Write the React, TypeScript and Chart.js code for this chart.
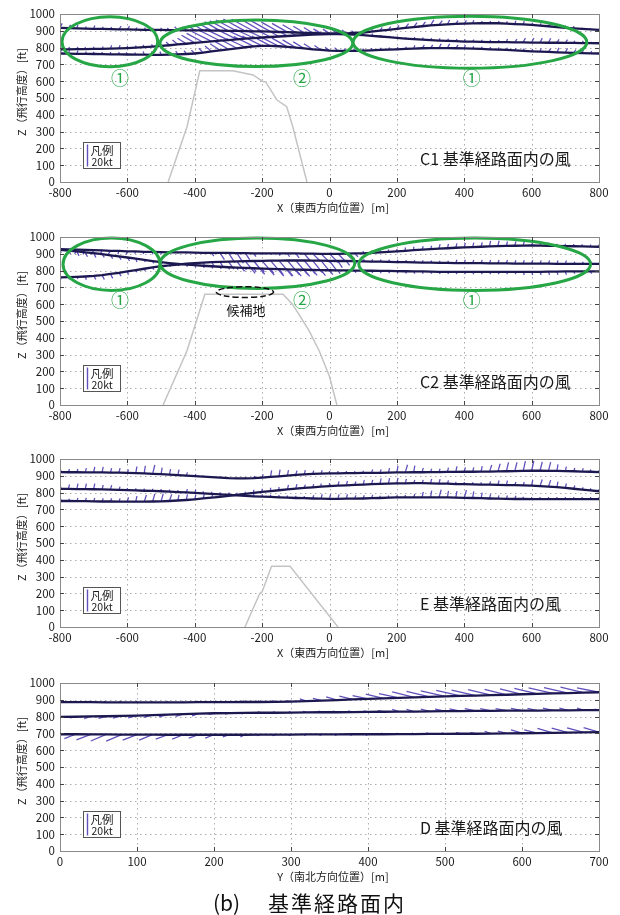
import React, { useEffect, useRef } from 'react';
import { Chart, registerables } from 'chart.js';

Chart.register(...registerables);

const FONT = '"Noto Sans CJK JP", "Noto Sans", sans-serif';
const PATH_COLOR = '#1c1850';
const BARB_COLOR = 'rgba(84,66,182,0.92)';
const GREEN = '#27a646';
const KT_PX = 1.1; // quiver scale: pixels per knot (legend bar = 20 kt)

// ---------- sample positions ----------
const X_EW = [
  -800, -775, -750, -725, -700, -675, -650, -625, -600, -575, -550, -525, -500,
  -475, -450, -425, -400, -375, -350, -325, -300, -275, -250, -225, -200, -175,
  -150, -125, -100, -75, -50, -25, 0, 25, 50, 75, 100, 125, 150,
  175, 200, 225, 250, 275, 300, 325, 350, 375, 400, 425, 450, 475,
  500, 525, 550, 575, 600, 625, 650, 675, 700, 725, 750, 775, 800,
];
const X_NS = [
  0, 20, 40, 60, 80, 100, 120, 140, 160, 180, 200, 220,
  240, 260, 280, 300, 320, 340, 360, 380, 400, 420, 440, 460,
  480, 500, 520, 540, 560, 580, 600, 620, 640, 660, 680, 700,
];

// ---------- C1 : flight paths (ft) and wind (kt: u horizontal, w vertical) ----------
const C1_Z1 = [
  918, 916, 915, 913, 912, 911, 910, 909, 908, 907, 906, 905, 905,
  904, 904, 903, 903, 902, 901, 901, 900, 899, 898, 897, 896, 895,
  893, 892, 890, 888, 887, 885, 884, 884, 885, 887, 890, 895, 901,
  906, 912, 917, 922, 927, 932, 935, 938, 941, 943, 944, 945, 945,
  945, 943, 940, 938, 935, 931, 927, 922, 918, 915, 911, 908, 905,
];
const C1_U1 = [
  2, 2, 1, 1, 1, 1, 1, 2, 2, 1, 1, 0, 0,
  -2, -3, -4, -6, -8, -11, -14, -17, -19, -20, -20, -19, -18,
  -16, -14, -12, -10, -8, -7, -6, -5, -4, -3, 1, 1, 2,
  2, 2, 3, 3, 3, 3, 3, 2, 2, 2, 1, 1, 1,
  1, 1, 1, 1, 1, 1, 1, 1, 0, 0, 0, 0, 0,
];
const C1_W1 = [
  4, 3, 3, 2, 3, 2, 2, 3, 3, 2, 2, 2, 2,
  2, 3, 3, 4, 5, 6, 8, 9, 10, 11, 11, 11, 10,
  9, 8, 7, 6, 5, 4, 4, 3, 3, 2, 2, 2, 3,
  3, 3, 4, 4, 4, 5, 4, 4, 3, 3, 3, 2, 2,
  2, 2, 3, 3, 2, 2, 2, 2, 2, 2, 1, 1, 1,
];
const C1_Z2 = [
  790, 790, 791, 791, 792, 793, 794, 795, 797, 800, 803, 806, 810,
  814, 819, 823, 828, 832, 837, 841, 845, 849, 853, 857, 860, 863,
  866, 869, 872, 874, 877, 879, 880, 880, 879, 877, 874, 870, 866,
  862, 858, 854, 850, 847, 844, 842, 840, 838, 836, 835, 834, 833,
  832, 832, 831, 831, 830, 830, 829, 829, 828, 828, 827, 827, 826,
];
const C1_U2 = [
  1, 1, 1, 0, 0, 1, 1, 1, 0, 0, -1, -1, -2,
  -3, -5, -8, -12, -15, -18, -20, -21, -20, -19, -17, -15, -12,
  -9, -7, -5, -4, -3, -2, -2, -1, -1, 0, 0, 1, 1,
  1, 1, 1, 1, 1, 1, 1, 1, 1, 1, 1, 1, 1,
  1, 1, 2, 2, 2, 2, 2, 2, 2, 1, 1, 1, 1,
];
const C1_W2 = [
  2, 2, 2, 2, 2, 2, 3, 3, 2, 2, 2, 2, 3,
  3, 4, 5, 7, 8, 9, 10, 10, 10, 9, 8, 7, 6,
  5, 4, 3, 3, 2, 2, 2, 2, 2, 2, 2, 2, 1,
  1, 1, 1, 2, 2, 2, 2, 2, 2, 2, 2, 2, 2,
  2, 3, 3, 4, 4, 4, 4, 3, 3, 2, 2, 1, 1,
];
const C1_Z3 = [
  765, 764, 763, 763, 762, 761, 760, 760, 759, 758, 758, 757, 757,
  758, 760, 762, 765, 770, 777, 784, 790, 796, 802, 807, 810, 810,
  808, 804, 800, 795, 790, 786, 782, 780, 780, 781, 782, 784, 786,
  788, 790, 792, 794, 796, 797, 797, 797, 796, 795, 794, 792, 790,
  788, 786, 783, 781, 778, 776, 774, 772, 770, 769, 767, 766, 765,
];
const C1_U3 = [
  1, 1, 1, 1, 0, 0, 0, 0, -1, -1, -1, -1, -1,
  -1, -2, -2, -3, -4, -6, -9, -12, -15, -17, -18, -18, -17,
  -16, -14, -12, -10, -8, -6, -4, -3, -2, -1, 0, 0, 1,
  1, 1, 1, 1, 2, 2, 2, 2, 2, 1, 1, 1, 1,
  1, 1, 1, 1, 1, 1, 2, 2, 2, 2, 1, 1, 1,
];
const C1_W3 = [
  3, 3, 3, 2, 2, 2, 2, 2, 2, 2, 3, 3, 3,
  3, 3, 3, 3, 4, 5, 6, 7, 8, 8, 9, 9, 9,
  8, 8, 7, 6, 5, 4, 3, 3, 2, 2, 2, 2, 2,
  2, 2, 2, 3, 3, 3, 4, 4, 3, 3, 2, 2, 2,
  2, 2, 2, 2, 2, 3, 3, 4, 4, 3, 3, 2, 2,
];
const C1_TERRAIN_X = [-479, -423, -385, -287, -227, -197, -190, -156, -127, -109, -67];
const C1_TERRAIN_Z = [0, 329, 662, 662, 637, 597, 597, 488, 448, 329, 0];

// ---------- C2 ----------
const C2_Z1 = [
  928, 926, 925, 923, 922, 920, 918, 917, 915, 914, 912, 911, 910,
  909, 908, 908, 907, 906, 906, 905, 905, 904, 904, 903, 903, 903,
  902, 902, 902, 901, 901, 900, 900, 900, 901, 902, 903, 906, 909,
  912, 915, 918, 922, 925, 928, 931, 933, 936, 938, 940, 942, 944,
  946, 947, 948, 949, 950, 949, 948, 947, 946, 945, 944, 943, 942,
];
const C2_U1 = [
  -1, -1, -2, -2, -2, -2, -2, -1, -1, -1, -1, 0, 0,
  0, 0, 0, 1, 1, 2, 4, 6, 6, 4, 2, 1, 1,
  1, 2, 3, 5, 7, 8, 8, 7, 5, 3, 0, 0, 0,
  0, 0, 0, 0, 1, 1, 1, 1, 1, 1, 1, 1, 1,
  1, 1, 1, 1, 1, 1, 0, 0, 0, 0, 0, 0, 0,
];
const C2_W1 = [
  -3, -3, -4, -4, -4, -4, -3, -3, -3, -2, -2, -2, -2,
  -1, -1, -1, -1, -1, -3, -6, -9, -9, -6, -3, -1, -1,
  -2, -3, -4, -6, -7, -8, -8, -7, -5, -3, 2, 2, 2,
  2, 2, 3, 3, 3, 3, 4, 4, 4, 4, 4, 4, 5,
  5, 4, 4, 4, 3, 3, 3, 2, 2, 2, 2, 2, 2,
];
const C2_Z2 = [
  924, 919, 914, 909, 904, 898, 891, 885, 878, 871, 864, 857, 850,
  845, 840, 836, 832, 829, 826, 823, 820, 818, 816, 814, 812, 810,
  809, 807, 806, 805, 804, 803, 802, 801, 801, 800, 800, 799, 798,
  798, 797, 796, 795, 795, 794, 793, 793, 792, 792, 792, 792, 792,
  792, 792, 792, 793, 793, 793, 794, 794, 795, 795, 795, 795, 795,
];
const C2_U2 = [
  1, 2, 2, 2, 2, 2, 2, 2, 2, 1, 1, 1, 1,
  1, 1, 1, 1, 1, 1, 1, 1, 1, 1, 2, 2, 3,
  4, 5, 5, 5, 4, 4, 3, 2, 1, 1, 1, 1, 1,
  1, 1, 1, 1, 1, 1, 1, 1, 1, 1, 1, 1, 1,
  1, 1, 1, 1, 1, 1, 1, 1, 1, 1, 1, 1, 1,
];
const C2_W2 = [
  -3, -3, -4, -4, -4, -3, -3, -3, -3, -3, -2, -2, -2,
  -2, -2, -2, -2, -2, -2, -2, -2, -2, -2, -3, -3, -4,
  -5, -6, -6, -6, -5, -5, -4, -3, -2, -2, -2, -2, -2,
  -2, -2, -2, -2, -2, -2, -2, -2, -2, -2, -2, -2, -2,
  -2, -2, -2, -3, -3, -3, -3, -3, -3, -2, -2, -2, -2,
];
const C2_Z3 = [
  760, 761, 763, 765, 768, 773, 780, 787, 795, 803, 811, 819, 826,
  831, 836, 841, 845, 848, 850, 852, 854, 855, 856, 857, 858, 859,
  859, 860, 860, 860, 859, 859, 858, 857, 857, 856, 855, 854, 853,
  852, 851, 850, 849, 848, 847, 846, 846, 845, 845, 844, 844, 843,
  843, 843, 842, 842, 842, 841, 841, 840, 840, 840, 840, 840, 840,
];
const C2_U3 = [
  1, 1, 1, 1, 2, 2, 2, 2, 1, 1, 1, 1, 1,
  1, 1, 1, 1, 1, 2, 3, 5, 7, 9, 10, 11, 12,
  12, 11, 11, 10, 9, 8, 6, 4, 3, 2, 1, 1, 1,
  1, 1, 1, 1, 1, 1, 1, 1, 1, 1, 1, 1, 1,
  1, 1, 1, 1, 1, 1, 1, 1, 1, 1, 1, 1, 1,
];
const C2_W3 = [
  -2, -2, -2, -3, -3, -4, -4, -3, -3, -2, -2, -2, -2,
  -1, -1, -1, -1, -2, -3, -5, -7, -9, -11, -12, -13, -14,
  -14, -13, -13, -12, -11, -10, -8, -6, -4, -2, 2, 2, 2,
  2, 2, 2, 2, 2, 2, 2, 2, 3, 3, 3, 3, 3,
  3, 3, 3, 3, 3, 3, 3, 3, 3, 2, 2, 2, 2,
];
const C2_TERRAIN_X = [-494, -423, -370, -138, -110, -88, -60, -30, 0, 22];
const C2_TERRAIN_Z = [0, 323, 659, 659, 600, 530, 440, 320, 170, 0];

// ---------- E ----------
const E_Z1 = [
  922, 921, 921, 920, 920, 920, 919, 919, 918, 916, 914, 912, 910,
  907, 904, 901, 898, 895, 892, 889, 886, 885, 885, 886, 889, 893,
  897, 901, 905, 908, 911, 913, 915, 915, 916, 916, 917, 918, 918,
  919, 920, 920, 921, 921, 922, 922, 923, 923, 924, 924, 925, 925,
  926, 927, 928, 929, 930, 930, 929, 929, 928, 927, 925, 924, 922,
];
const E_U1 = [
  1, 1, 1, 1, 1, 1, 1, 1, 1, 1, 1, 2, 1,
  1, 1, 1, 1, 0, 0, 0, 0, 0, 0, 1, 1, 1,
  1, 1, 1, 1, 1, 1, 0, 0, 0, 0, 0, 1, 1,
  1, 1, 2, 1, 1, 1, 1, 1, 1, 1, 1, 1, 2,
  2, 2, 2, 2, 2, 2, 2, 1, 1, 1, 1, 0, 0,
];
const E_W1 = [
  2, 3, 3, 4, 5, 5, 4, 4, 3, 6, 7, 8, 6,
  5, 5, 3, 2, 1, 1, 1, 1, 1, 1, 2, 3, 6,
  6, 5, 4, 4, 3, 3, 2, 2, 2, 2, 2, 3, 3,
  4, 6, 7, 6, 4, 3, 3, 4, 5, 4, 4, 5, 6,
  7, 8, 8, 9, 9, 8, 8, 6, 4, 3, 3, 2, 2,
];
const E_Z2 = [
  822, 822, 821, 821, 820, 819, 818, 816, 815, 813, 811, 810, 808,
  806, 803, 801, 798, 795, 792, 789, 786, 783, 781, 778, 776, 774,
  772, 770, 768, 767, 765, 764, 763, 763, 764, 764, 765, 767, 768,
  770, 771, 772, 772, 772, 772, 771, 771, 770, 769, 768, 767, 765,
  764, 763, 762, 762, 761, 761, 761, 761, 761, 761, 761, 761, 761,
];
const E_U2 = [
  1, 1, 1, 1, 1, 1, 1, 1, 0, 0, 0, 0, 0,
  0, 0, 1, 1, 0, 0, 0, 0, 0, 0, 0, 0, 0,
  0, 0, 0, 0, 1, 1, 1, 1, 1, 1, 1, 1, 0,
  0, 0, 0, 1, 1, 1, 2, 1, 1, 2, 1, 1, 1,
  1, 1, 1, 0, 0, 0, 0, 0, 0, 0, 0, 0, 0,
];
const E_W2 = [
  2, 4, 5, 5, 5, 4, 4, 3, 2, 2, 2, 2, 2,
  2, 2, 3, 3, 2, 2, 2, 2, 2, 2, 2, 2, 2,
  2, 2, 2, 2, 3, 4, 4, 4, 4, 3, 3, 3, 2,
  2, 2, 2, 3, 5, 6, 7, 6, 6, 7, 6, 5, 4,
  3, 3, 3, 2, 2, 2, 2, 2, 2, 2, 2, 2, 2,
];
const E_Z3 = [
  750, 750, 749, 749, 748, 747, 747, 746, 746, 746, 746, 747, 748,
  750, 753, 756, 760, 765, 770, 775, 780, 786, 792, 798, 804, 809,
  814, 819, 824, 828, 831, 835, 838, 841, 843, 846, 848, 850, 852,
  854, 855, 855, 856, 856, 855, 854, 853, 851, 850, 849, 848, 847,
  846, 845, 844, 843, 842, 839, 835, 832, 828, 823, 818, 813, 808,
];
const E_U3 = [
  1, 1, 1, 1, 1, 1, 1, 1, 1, 1, 2, 2, 2,
  2, 1, 1, 1, 1, 1, 1, 1, 0, 0, 0, 0, 0,
  0, 1, 1, 1, 1, 0, 0, 1, 1, 1, 1, 1, 1,
  1, 1, 1, 1, 1, 1, 1, 1, 0, 0, 0, 0, 1,
  1, 1, 1, 1, 1, 2, 2, 1, 1, 1, 1, 0, 0,
];
const E_W3 = [
  2, 2, 3, 3, 3, 3, 3, 3, 4, 5, 6, 7, 7,
  6, 5, 5, 4, 4, 3, 3, 3, 2, 2, 3, 3, 3,
  3, 4, 4, 3, 3, 3, 3, 4, 4, 3, 4, 4, 5,
  5, 5, 4, 3, 3, 4, 4, 3, 2, 2, 2, 2, 3,
  4, 4, 3, 3, 5, 6, 6, 5, 4, 3, 2, 2, 2,
];
const E_TERRAIN_X = [-251, -207, -200, -172, -117, 25];
const E_TERRAIN_Z = [0, 200, 210, 362, 362, 0];

// ---------- D ----------
const D_Z1 = [
  886, 886, 886, 885, 885, 885, 885, 885, 885, 886, 886, 886,
  887, 887, 888, 889, 892, 895, 898, 902, 905, 908, 911, 914,
  917, 920, 923, 925, 928, 930, 933, 935, 938, 940, 943, 945,
];
const D_U1 = [
  -2, -2, -2, -2, -2, -1, -1, -1, -1, -1, -1, -1,
  -2, -2, -3, -4, -6, -8, -10, -12, -14, -16, -18, -20,
  -21, -22, -22, -22, -21, -20, -20, -21, -22, -22, -21, -20,
];
const D_W1 = [
  1, 1, 1, 1, 1, 1, 1, 1, 1, 1, 1, 1,
  1, 1, 1, 1, 2, 2, 3, 3, 3, 4, 4, 5,
  5, 5, 5, 5, 5, 5, 5, 5, 5, 5, 5, 4,
];
const D_Z2 = [
  798, 799, 801, 802, 804, 806, 809, 812, 815, 818, 820, 821,
  822, 823, 823, 824, 825, 826, 826, 827, 828, 829, 830, 830,
  831, 832, 833, 834, 834, 835, 836, 836, 837, 837, 838, 838,
];
const D_U2 = [
  -4, -5, -6, -7, -8, -8, -8, -8, -7, -6, -5, -4,
  -3, -2, -2, -2, -3, -3, -4, -4, -4, -5, -6, -7,
  -8, -9, -10, -10, -10, -10, -10, -9, -9, -8, -6, -4,
];
const D_W2 = [
  -1, -1, -2, -2, -2, -2, -2, -2, -2, -2, -1, -1,
  -1, 1, 1, 1, 1, 1, 1, 1, 1, 1, 2, 2,
  2, 2, 2, 2, 2, 2, 2, 2, 2, 2, 2, 1,
];
const D_Z3 = [
  695, 695, 694, 694, 693, 693, 693, 692, 692, 692, 692, 692,
  692, 693, 693, 693, 694, 694, 694, 695, 695, 695, 696, 696,
  697, 697, 698, 698, 699, 700, 701, 702, 703, 705, 706, 708,
];
const D_U3 = [
  -6, -10, -13, -14, -14, -13, -12, -11, -10, -9, -8, -6,
  -4, -3, -3, -2, -2, -2, -2, -2, -2, -2, -2, -2,
  -3, -3, -4, -5, -6, -8, -10, -12, -14, -15, -15, -14,
];
const D_W3 = [
  -2, -4, -5, -6, -6, -5, -5, -4, -4, -3, -3, -2,
  -2, -1, -1, -1, -1, -1, -1, -1, -1, 1, 1, 1,
  1, 1, 1, 1, 2, 2, 3, 3, 4, 4, 4, 4,
];

// ---------- annotations (data units: centre x [m], centre z [ft], half-width [m], half-height [ft]) ----------
const C1_ZONES = [
  { cx: -652, cz: 835, a: 142, b: 149, label: '①', lx: -622, lz: 617 },
  { cx: -217, cz: 826, a: 286, b: 139, label: '②', lx: -82, lz: 617 },
  { cx: 417, cz: 832, a: 347, b: 155, label: '①', lx: 422, lz: 617 },
];
const C2_ZONES = [
  { cx: -647, cz: 838, a: 144, b: 156, label: '①', lx: -622, lz: 623 },
  { cx: -214, cz: 844, a: 289, b: 150, label: '②', lx: -82, lz: 623 },
  { cx: 431, cz: 838, a: 344, b: 156, label: '①', lx: 422, lz: 623 },
];
const C2_SITE = { cx: -251, cz: 672, a: 85, b: 32, label: '候補地', lx: -248, lz: 563 };

const Y_TITLE = 'Z（飛行高度）[ft]';

const PANELS = [
  {
    top: 2, xs: X_EW, xmin: -800, xmax: 800, step: 200,
    xTitle: 'X（東西方向位置）[m]', title: 'C1 基準経路面内の風',
    paths: [
      { z: C1_Z1, u: C1_U1, w: C1_W1 },
      { z: C1_Z2, u: C1_U2, w: C1_W2 },
      { z: C1_Z3, u: C1_U3, w: C1_W3 },
    ],
    terrain: { x: C1_TERRAIN_X, z: C1_TERRAIN_Z },
    zones: C1_ZONES, site: null,
  },
  {
    top: 225, xs: X_EW, xmin: -800, xmax: 800, step: 200,
    xTitle: 'X（東西方向位置）[m]', title: 'C2 基準経路面内の風',
    paths: [
      { z: C2_Z1, u: C2_U1, w: C2_W1 },
      { z: C2_Z2, u: C2_U2, w: C2_W2 },
      { z: C2_Z3, u: C2_U3, w: C2_W3 },
    ],
    terrain: { x: C2_TERRAIN_X, z: C2_TERRAIN_Z },
    zones: C2_ZONES, site: C2_SITE,
  },
  {
    top: 447, xs: X_EW, xmin: -800, xmax: 800, step: 200,
    xTitle: 'X（東西方向位置）[m]', title: 'E 基準経路面内の風',
    paths: [
      { z: E_Z1, u: E_U1, w: E_W1 },
      { z: E_Z2, u: E_U2, w: E_W2 },
      { z: E_Z3, u: E_U3, w: E_W3 },
    ],
    terrain: { x: E_TERRAIN_X, z: E_TERRAIN_Z },
    zones: [], site: null,
  },
  {
    top: 671, xs: X_NS, xmin: 0, xmax: 700, step: 100,
    xTitle: 'Y（南北方向位置）[m]', title: 'D 基準経路面内の風',
    paths: [
      { z: D_Z1, u: D_U1, w: D_W1 },
      { z: D_Z2, u: D_U2, w: D_W2 },
      { z: D_Z3, u: D_U3, w: D_W3 },
    ],
    terrain: null,
    zones: [], site: null,
  },
];

const CANVAS_W = 620;
const CANVAS_H = 222;

function makeChart(canvas: HTMLCanvasElement, p: any) {
  const datasets: any[] = p.paths.map((path: any) => ({
    data: p.xs.map((x: number, i: number) => ({ x, y: path.z[i] })),
    borderColor: PATH_COLOR,
    borderWidth: 2.3,
    showLine: true,
    pointRadius: 0,
    tension: 0,
  }));
  if (p.terrain) {
    datasets.push({
      data: p.terrain.x.map((x: number, i: number) => ({ x, y: p.terrain.z[i] })),
      borderColor: '#c4c4c4',
      borderWidth: 1.5,
      showLine: true,
      pointRadius: 0,
      tension: 0,
    });
  }

  const panelPlugin = {
    id: 'panelDecor',
    beforeDatasetsDraw(chart: any) {
      const { ctx, chartArea: a, scales } = chart;
      const xs = scales.x, ys = scales.y;
      ctx.save();
      // dotted grid
      ctx.strokeStyle = '#ababab';
      ctx.lineWidth = 1;
      ctx.setLineDash([1.5, 3.5]);
      ctx.beginPath();
      xs.ticks.forEach((t: any) => {
        const px = Math.round(xs.getPixelForValue(t.value)) + 0.5;
        if (px <= a.left + 1 || px >= a.right - 1) return;
        ctx.moveTo(px, a.top);
        ctx.lineTo(px, a.bottom);
      });
      ys.ticks.forEach((t: any) => {
        const py = Math.round(ys.getPixelForValue(t.value)) + 0.5;
        if (py <= a.top + 1 || py >= a.bottom - 1) return;
        ctx.moveTo(a.left, py);
        ctx.lineTo(a.right, py);
      });
      ctx.stroke();
      ctx.setLineDash([]);
      // wind vectors (quiver)
      ctx.beginPath();
      ctx.rect(a.left, a.top, a.right - a.left, a.bottom - a.top);
      ctx.clip();
      ctx.strokeStyle = BARB_COLOR;
      ctx.lineWidth = 1.3;
      ctx.beginPath();
      p.paths.forEach((path: any) => {
        const n = Math.min(p.xs.length, path.z.length, path.u.length, path.w.length);
        for (let i = 0; i < n; i++) {
          const x0 = xs.getPixelForValue(p.xs[i]);
          const y0 = ys.getPixelForValue(path.z[i]);
          ctx.moveTo(x0, y0);
          ctx.lineTo(x0 + path.u[i] * KT_PX, y0 - path.w[i] * KT_PX);
        }
      });
      ctx.stroke();
      ctx.restore();
    },
    afterDraw(chart: any) {
      const { ctx, chartArea: a, scales } = chart;
      const xs = scales.x, ys = scales.y;
      const X = (v: number) => xs.getPixelForValue(v);
      const Y = (v: number) => ys.getPixelForValue(v);
      ctx.save();

      // green zones
      p.zones.forEach((e: any) => {
        ctx.strokeStyle = GREEN;
        ctx.lineWidth = 3;
        ctx.beginPath();
        ctx.ellipse(X(e.cx), Y(e.cz), Math.abs(X(e.cx + e.a) - X(e.cx)), Math.abs(Y(e.cz + e.b) - Y(e.cz)), 0, 0, Math.PI * 2);
        ctx.stroke();
        ctx.fillStyle = GREEN;
        ctx.font = `18px ${FONT}`;
        ctx.textAlign = 'center';
        ctx.textBaseline = 'middle';
        ctx.fillText(e.label, X(e.lx), Y(e.lz));
      });

      // candidate site
      if (p.site) {
        const s = p.site;
        ctx.strokeStyle = '#111';
        ctx.lineWidth = 1.5;
        ctx.setLineDash([6, 3]);
        ctx.beginPath();
        ctx.ellipse(X(s.cx), Y(s.cz), Math.abs(X(s.cx + s.a) - X(s.cx)), Math.abs(Y(s.cz + s.b) - Y(s.cz)), 0, 0, Math.PI * 2);
        ctx.stroke();
        ctx.setLineDash([]);
        ctx.fillStyle = '#111';
        ctx.font = `13px ${FONT}`;
        ctx.textAlign = 'center';
        ctx.textBaseline = 'middle';
        ctx.fillText(s.label, X(s.lx), Y(s.lz));
      }

      // legend box
      const lx = Math.round(a.left + 23) + 0.5;
      const ly = Math.round(a.bottom - 40) + 0.5;
      ctx.fillStyle = '#fff';
      ctx.fillRect(lx, ly, 37, 26);
      ctx.strokeStyle = '#555';
      ctx.lineWidth = 1;
      ctx.strokeRect(lx, ly, 37, 26);
      ctx.strokeStyle = BARB_COLOR;
      ctx.lineWidth = 1.4;
      ctx.beginPath();
      ctx.moveTo(lx + 4, ly + 24);
      ctx.lineTo(lx + 4, ly + 24 - 20 * KT_PX);
      ctx.stroke();
      ctx.fillStyle = '#1a1a1a';
      ctx.font = `11.5px ${FONT}`;
      ctx.textAlign = 'left';
      ctx.textBaseline = 'middle';
      ctx.fillText('凡例', lx + 7, ly + 8);
      ctx.font = `10.5px ${FONT}`;
      ctx.fillText('20kt', lx + 8, ly + 20);

      // panel title
      ctx.fillStyle = '#1a1a1a';
      ctx.font = `16px ${FONT}`;
      ctx.textAlign = 'left';
      ctx.textBaseline = 'middle';
      ctx.fillText(p.title, a.left + 360, a.bottom - 23.5);

      // axis titles
      ctx.font = `11px ${FONT}`;
      ctx.textAlign = 'center';
      ctx.textBaseline = 'middle';
      ctx.fillText(p.xTitle, (a.left + a.right) / 2 + 3.5, a.bottom + 26);
      ctx.save();
      ctx.translate(22, (a.top + a.bottom) / 2 - 6);
      ctx.rotate(-Math.PI / 2);
      ctx.fillText(Y_TITLE, 0, 0);
      ctx.restore();

      // axes box
      ctx.strokeStyle = '#8a8a8a';
      ctx.lineWidth = 1;
      ctx.strokeRect(Math.round(a.left) + 0.5, Math.round(a.top) + 0.5, Math.round(a.right - a.left), Math.round(a.bottom - a.top));

      // inward tick marks on all four sides
      ctx.strokeStyle = '#444';
      ctx.beginPath();
      xs.ticks.forEach((t: any) => {
        const px = Math.round(xs.getPixelForValue(t.value)) + 0.5;
        if (px <= a.left + 1 || px >= a.right - 1) return;
        ctx.moveTo(px, a.bottom);
        ctx.lineTo(px, a.bottom - 4);
        ctx.moveTo(px, a.top);
        ctx.lineTo(px, a.top + 4);
      });
      ys.ticks.forEach((t: any) => {
        const py = Math.round(ys.getPixelForValue(t.value)) + 0.5;
        if (py <= a.top + 1 || py >= a.bottom - 1) return;
        ctx.moveTo(a.left, py);
        ctx.lineTo(a.left + 4, py);
        ctx.moveTo(a.right, py);
        ctx.lineTo(a.right - 4, py);
      });
      ctx.stroke();
      ctx.restore();
    },
  };

  return new Chart(canvas, {
    type: 'scatter',
    data: { datasets },
    options: {
      responsive: false,
      animation: false,
      devicePixelRatio: 1,
      events: [],
      layout: { padding: { top: 12, right: 21, left: 0, bottom: 0 }, autoPadding: false },
      plugins: { legend: { display: false }, tooltip: { enabled: false }, title: { display: false } },
      scales: {
        x: {
          type: 'linear',
          position: 'bottom',
          min: p.xmin,
          max: p.xmax,
          ticks: {
            stepSize: p.step,
            autoSkip: false,
            maxRotation: 0,
            padding: 4,
            color: '#1a1a1a',
            font: { family: FONT, size: 11.5 },
            callback: (v: any) => String(v),
          },
          grid: { display: false, drawTicks: false },
          border: { display: false },
          afterFit: (s: any) => { s.height = CANVAS_H - 12 - 168; },
        },
        y: {
          type: 'linear',
          position: 'left',
          min: 0,
          max: 1000,
          ticks: {
            stepSize: 100,
            autoSkip: false,
            padding: 5,
            color: '#1a1a1a',
            font: { family: FONT, size: 11.5 },
            callback: (v: any) => String(v),
          },
          grid: { display: false, drawTicks: false },
          border: { display: false },
          afterFit: (s: any) => { s.width = 60; },
        },
      },
    } as any,
    plugins: [panelPlugin],
  } as any);
}

function Panel({ panel }: { panel: any }) {
  const ref = useRef<HTMLCanvasElement | null>(null);
  useEffect(() => {
    if (!ref.current) return;
    const chart = makeChart(ref.current, panel);
    return () => chart.destroy();
  }, [panel]);
  return (
    <canvas
      ref={ref}
      width={CANVAS_W}
      height={CANVAS_H}
      style={{ position: 'absolute', left: 0, top: panel.top, width: CANVAS_W, height: CANVAS_H, display: 'block' }}
    />
  );
}

export default function App() {
  return (
    <div style={{ position: 'absolute', left: 0, top: 0, width: 620, height: 915, background: '#fff', overflow: 'hidden' }}>
      {PANELS.map((p, i) => (
        <Panel key={i} panel={p} />
      ))}
      <div style={{ position: 'absolute', top: 889, left: 213, height: 26, lineHeight: '26px', fontFamily: FONT, fontSize: 21, color: '#111' }}>(b)</div>
      <div style={{ position: 'absolute', top: 889, left: 268, height: 26, lineHeight: '26px', fontFamily: FONT, fontSize: 21, letterSpacing: 2, color: '#111' }}>基準経路面内</div>
    </div>
  );
}
